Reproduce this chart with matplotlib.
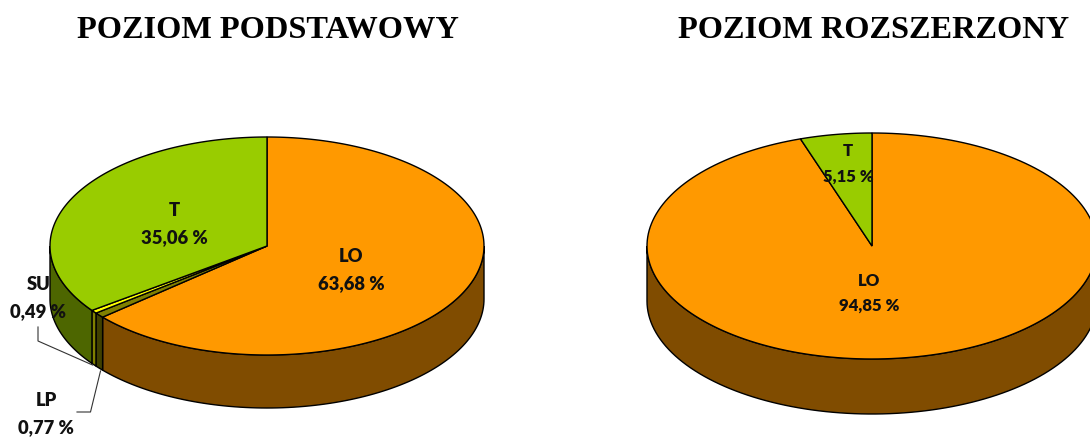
import matplotlib
matplotlib.use('Agg')
import matplotlib.pyplot as plt
from matplotlib.patches import Polygon
import numpy as np

# values, clockwise from 12 o'clock
left_title = 'POZIOM PODSTAWOWY'
left_names = ['LO', 'LP', 'SU', 'T']
left_values = [63.68, 0.77, 0.49, 35.06]

right_title = 'POZIOM ROZSZERZONY'
right_names = ['LO', 'T']
right_values = [94.85, 5.15]

top_colors = {'LO': '#FF9900', 'LP': '#808000', 'SU': '#FFFF00', 'T': '#99CC00'}
side_colors = {'LO': '#804C00', 'LP': '#404000', 'SU': '#808000', 'T': '#4D6600'}


def ell(cx, cy, rx, ry, t):
    return np.column_stack([cx + rx * np.sin(t), cy - ry * np.cos(t)])


def draw_pie(ax, cx, cy, rx, ry, depth, names, values):
    edges = np.radians(np.cumsum([0] + values) * 3.6)

    # walls first, only the front half of the rim can be seen
    for i, name in enumerate(names):
        t0 = max(edges[i], np.pi / 2)
        t1 = min(edges[i + 1], 3 * np.pi / 2)
        if t1 <= t0:
            continue
        t = np.linspace(t0, t1, 100)
        rim = ell(cx, cy, rx, ry, t)
        low = rim + [0, depth]
        ax.add_patch(Polygon(np.vstack([rim, low[::-1]]), closed=True,
                             fc=side_colors[name], ec='black', lw=1.0, zorder=2))

    for i, name in enumerate(names):
        t = np.linspace(edges[i], edges[i + 1], 200)
        pts = np.vstack([[cx, cy], ell(cx, cy, rx, ry, t)])
        ax.add_patch(Polygon(pts, closed=True, fc=top_colors[name],
                             ec='black', lw=1.0, zorder=3))


fig = plt.figure(figsize=(10.9, 4.38), dpi=100)
ax = fig.add_axes([0, 0, 1, 1])
ax.set_xlim(0, 1090)
ax.set_ylim(438, 0)
ax.axis('off')

draw_pie(ax, 267, 246, 217, 109, 53, left_names, left_values)
draw_pie(ax, 872, 246, 225, 113, 55, right_names, right_values)

title_font = dict(family='Liberation Serif', fontweight='bold', fontsize=23.3,
                  ha='center', va='center')
ax.text(268, 31, left_title, **title_font)
ax.text(874, 31, right_title, **title_font)

# leader lines of the two thin slices
ax.plot([38, 38, 92.5], [327, 341, 365], color='#333333', lw=0.8, zorder=4)
ax.plot([77, 90.5, 100.5], [412, 412, 371], color='#333333', lw=0.8, zorder=4)


def label(x, y0, y1, name, value, size):
    txt = f'{value:.2f} %'.replace('.', ',')
    font = dict(family='Lato', fontweight='heavy', fontsize=size, color='#111111',
                ha='center', va='center', zorder=5)
    ax.text(x, y0, name, **font)
    ax.text(x, y1, txt, **font)


label(174, 210, 238, left_names[3], left_values[3], 13.2)
label(351, 256, 284, left_names[0], left_values[0], 13.2)
label(38.5, 284, 312, left_names[2], left_values[2], 13.2)
label(46, 400, 428, left_names[1], left_values[1], 13.2)
label(869, 281, 306, right_names[0], right_values[0], 12)
label(848, 151, 177, right_names[1], right_values[1], 12)

fig.savefig('out.png', dpi=100)
